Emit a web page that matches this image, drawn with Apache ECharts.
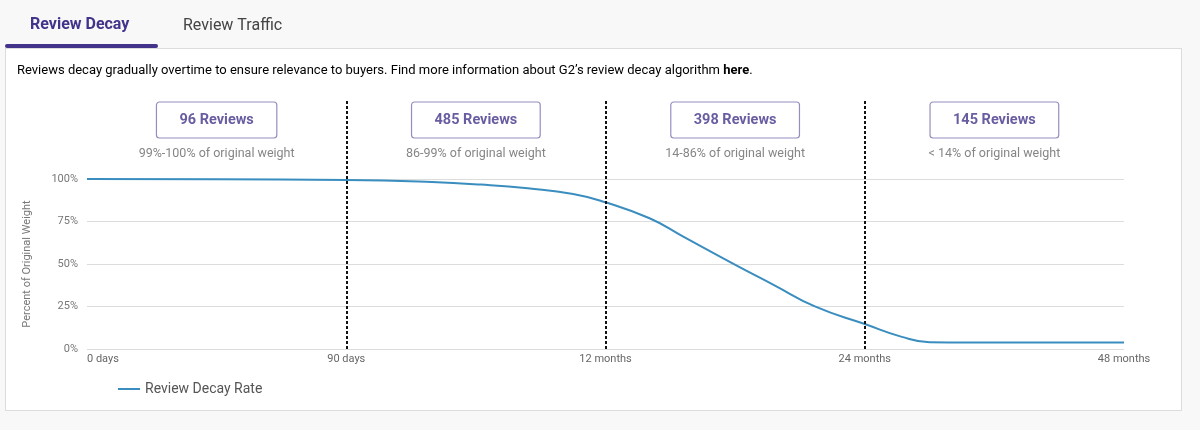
<!DOCTYPE html>
<html>
<head>
<meta charset="utf-8">
<script src="https://cdn.jsdelivr.net/npm/echarts@6/dist/echarts.min.js"></script>
<style>
  html, body { margin: 0; padding: 0; background: #f8f8f8; }
  #panel {
    position: absolute; left: 5px; top: 48px; width: 1177px; height: 363px;
    background: #fff; border: 1px solid #dcdcdc; box-sizing: border-box;
  }
  #chart { position: absolute; left: 0; top: 0; width: 1200px; height: 430px; }
</style>
</head>
<body>
<div id="panel"></div>
<div id="chart"></div>
<script>
// axis ticks along the time line
const periodLabels = ['0 days', '90 days', '12 months', '24 months', '48 months'];
const yTicks = [0, 25, 50, 75, 100];

// review buckets between the dividers
const reviewCounts = [96, 485, 398, 145];
const weightRanges = [
    '99%-100% of original weight',
    '86-99% of original weight',
    '14-86% of original weight',
    '< 14% of original weight'
];
const dividers = [1, 2, 3];

// decay curve, x in period steps, y in percent
const decayX = [0, 0.5, 1, 1.33, 1.52, 1.7, 1.875, 2, 2.17, 2.3, 2.49, 2.65, 2.81, 3, 3.14, 3.25, 3.4, 4];
const decayY = [100, 99.8, 99.4, 98.2, 96.7, 94.5, 91.2, 86.3, 76.9, 66.1, 50.4, 37.6, 24.9, 14.7, 7.3, 4.0, 3.8, 3.8];

const purple = '#43338a';
const font = 'Roboto';

var myChart = echarts.init(document.getElementById('chart'));

myChart.setOption({
    textStyle: { fontFamily: font },
    animation: false,
    graphic: [
        { type: 'rect', shape: { x: 5, y: 44, width: 153, height: 4, r: 2 }, style: { fill: purple } },
        {
            type: 'text', x: 30, y: 25,
            style: { text: 'Review Decay', font: 'bold 16px ' + font, fill: purple, textVerticalAlign: 'middle' }
        },
        {
            type: 'text', x: 183, y: 26,
            style: { text: 'Review Traffic', font: '16px ' + font, fill: '#444', textVerticalAlign: 'middle' }
        },
        {
            type: 'text', x: 17, y: 71,
            style: {
                text: '{a|Reviews decay gradually overtime to ensure relevance to buyers. Find more information about G2\u2019s review decay algorithm }{b|here}{a|.}',
                textVerticalAlign: 'middle',
                rich: {
                    a: { fontSize: 13, fontFamily: font, color: '#555' },
                    b: { fontSize: 13, fontFamily: font, fontWeight: 'bold', color: '#1d5d8a' }
                }
            }
        }
    ],
    legend: {
        left: 113, top: 377,
        icon: 'rect', itemWidth: 22, itemHeight: 2,
        textStyle: { fontSize: 14, color: '#555' },
        data: ['Review Decay Rate']
    },
    grid: [
        { left: 87, right: 76, top: 179, bottom: 81 },
        { left: 87, right: 76, top: 100, bottom: 81 }
    ],
    xAxis: [
        {
            type: 'value', gridIndex: 0, min: 0, max: periodLabels.length - 1, interval: 1,
            axisLine: { show: false }, axisTick: { show: false }, splitLine: { show: false },
            axisLabel: {
                fontSize: 11, color: '#666', margin: 5,
                alignMinLabel: 'left',
                formatter: (v) => periodLabels[v]
            }
        },
        { type: 'value', gridIndex: 1, min: 0, max: periodLabels.length - 1, show: false }
    ],
    yAxis: [
        {
            type: 'value', gridIndex: 0, min: yTicks[0], max: yTicks[yTicks.length - 1], interval: 25,
            name: 'Percent of Original Weight', nameLocation: 'middle', nameGap: 54,
            nameTextStyle: { fontSize: 11, color: '#777' },
            axisLine: { show: false }, axisTick: { show: false },
            axisLabel: { fontSize: 11, color: '#777', margin: 9, formatter: '{value}%' },
            splitLine: { lineStyle: { color: '#dcdcdc', width: 1 } }
        },
        { type: 'value', gridIndex: 1, min: 0, max: 1, show: false }
    ],
    series: [
        {
            name: 'Review Decay Rate',
            type: 'line',
            xAxisIndex: 0, yAxisIndex: 0,
            data: decayX.map((x, i) => [x, decayY[i]]),
            smooth: 0.5,
            symbol: 'none',
            lineStyle: { color: '#3a8dbf', width: 2 },
            itemStyle: { color: '#3a8dbf' },
            silent: true,
            z: 3
        },
        {
            name: 'buckets',
            type: 'scatter',
            xAxisIndex: 1, yAxisIndex: 1,
            symbolSize: 0,
            silent: true,
            data: reviewCounts.map((c, i) => ({ value: [i + 0.5, 1], count: c, range: weightRanges[i] })),
            label: {
                show: true, position: 'bottom', distance: 2,
                formatter: (p) => '{box|' + p.data.count + ' Reviews}\n{sub|' + p.data.range + '}',
                rich: {
                    box: {
                        fontSize: 14.5, fontWeight: 'bold', color: purple, fontFamily: font,
                        borderColor: '#7e72ae', borderWidth: 1.2, borderRadius: 3,
                        padding: [0, 23], height: 36, lineHeight: 36, align: 'center'
                    },
                    sub: { fontSize: 12.5, color: '#666', fontFamily: font, lineHeight: 32, align: 'center' }
                }
            },
            markLine: {
                silent: true,
                symbol: 'none',
                label: { show: false },
                lineStyle: { color: '#111', type: [3, 2], width: 2 },
                data: dividers.map((d) => ({ xAxis: d }))
            }
        }
    ]
});
</script>
</body>
</html>
